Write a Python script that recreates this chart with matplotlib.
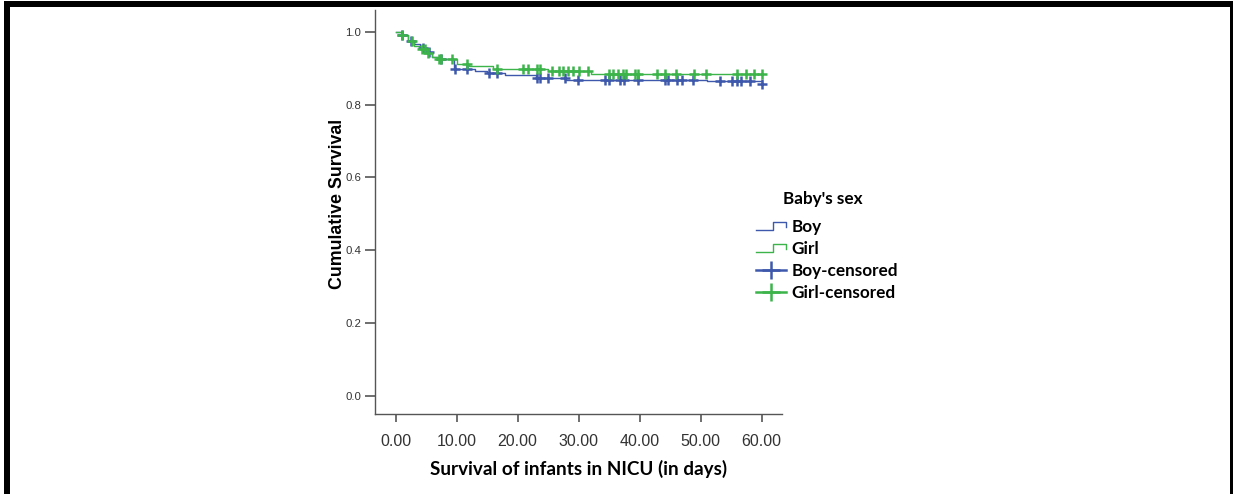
import numpy as np
import matplotlib
matplotlib.use("Agg")
import matplotlib.pyplot as plt
from matplotlib.lines import Line2D
from matplotlib.legend_handler import HandlerBase
from matplotlib.patches import Rectangle

# Kaplan-Meier steps: time of each drop and survival right after it
boy_times = [0, 1, 2, 3, 4, 5, 6, 7, 9.5, 13, 15, 18, 23, 28, 51, 60]
boy_surv = [1.0, 0.99, 0.975, 0.965, 0.955, 0.945, 0.932, 0.925, 0.898,
            0.893, 0.886, 0.880, 0.874, 0.868, 0.864, 0.856]
boy_censored = [1.0, 2.5, 4.5, 5.5, 7.5, 9.8, 11.7, 15.3, 16.6, 23.1, 23.6,
                25.0, 27.8, 29.9, 34.3, 34.9, 36.8, 37.5, 39.8, 44.1, 44.7,
                46.1, 46.9, 48.8, 53.2, 55.1, 55.9, 56.7, 58.1, 60.0]

girl_times = [0, 1, 2, 3, 4, 5, 6, 7, 10, 12, 16, 25, 32]
girl_surv = [1.0, 0.99, 0.975, 0.962, 0.952, 0.942, 0.932, 0.924, 0.912,
             0.905, 0.898, 0.892, 0.884]
girl_censored = [1.0, 2.7, 4.3, 4.8, 5.3, 7.1, 7.5, 9.2, 11.7, 16.6, 20.9,
                 21.7, 23.1, 23.6, 25.7, 26.7, 27.5, 28.3, 29.1, 30.1, 31.6,
                 35.0, 35.6, 36.5, 37.3, 37.8, 39.2, 39.8, 42.8, 44.1, 45.9,
                 48.9, 50.9, 55.9, 57.4, 58.7, 60.0]

end_time = 60
x_ticks = [0, 10, 20, 30, 40, 50, 60]
y_ticks = [0.0, 0.2, 0.4, 0.6, 0.8, 1.0]

BLUE = "#3e58ac"
GREEN = "#3cb44a"


def surv_at(times, surv, t):
    idx = np.searchsorted(times, t, side="right") - 1
    return np.array(surv)[idx]


class StepHandler(HandlerBase):
    # little step-shaped icon for the survival lines
    def create_artists(self, legend, orig, xd, yd, w, h, fs, trans):
        xs = np.array([0, 0.55, 0.55, 1.0, 1.0]) * w - xd
        ys = np.array([0.15, 0.15, 0.85, 0.85, 0.45]) * h - yd
        ln = Line2D(xs, ys, color=orig.get_color(), lw=1.0, transform=trans)
        return [ln]


fig = plt.figure(figsize=(12.33, 4.94), dpi=100)
ax = fig.add_axes([0.3044, 0.1613, 0.3296, 0.8187])

bt = boy_times + ([end_time] if boy_times[-1] < end_time else [])
bs = boy_surv + ([boy_surv[-1]] if boy_times[-1] < end_time else [])
gt = girl_times + [end_time]
gs = girl_surv + [girl_surv[-1]]

boy_line, = ax.step(bt, bs, where="post", color=BLUE, lw=1.0)
girl_line, = ax.step(gt, gs, where="post", color=GREEN, lw=1.0)

boy_c = ax.plot(boy_censored, surv_at(boy_times, boy_surv, boy_censored),
                ls="none", marker="+", ms=7.5, mew=1.8, color=BLUE)[0]
girl_c = ax.plot(girl_censored, surv_at(girl_times, girl_surv, girl_censored),
                 ls="none", marker="+", ms=7.5, mew=1.8, color=GREEN)[0]

ax.set_xlim(-3.34, 63.3)
ax.set_ylim(-0.05, 1.06)
ax.set_xticks(x_ticks)
ax.set_xticklabels([f"{v:.2f}" for v in x_ticks])
ax.set_yticks(y_ticks)
ax.set_yticklabels([f"{v:.1f}" for v in y_ticks])

for side in ["top", "right"]:
    ax.spines[side].set_visible(False)
for side in ["left", "bottom"]:
    ax.spines[side].set_color("#555555")
    ax.spines[side].set_linewidth(1.0)

ax.tick_params(axis="x", length=6, width=1.2, color="#555555",
               labelsize=11.5, labelcolor="#333333", pad=8)
ax.tick_params(axis="y", length=7, width=1.2, color="#555555",
               labelsize=8.2, labelcolor="#333333", pad=3)
for lab in ax.get_xticklabels() + ax.get_yticklabels():
    lab.set_family("Liberation Sans")

ax.set_xlabel("Survival of infants in NICU (in days)", family="Lato",
              fontweight="bold", fontsize=13.6, labelpad=8)
ax.set_ylabel("Cumulative Survival", family="Liberation Sans",
              fontweight="bold", fontsize=12.8)
ax.yaxis.set_label_coords(-0.073, 0.52)

leg = ax.legend([boy_line, girl_line, boy_c, girl_c],
                ["Boy", "Girl", "Boy-censored", "Girl-censored"],
                handler_map={boy_line: StepHandler(), girl_line: StepHandler()},
                loc="upper left", bbox_to_anchor=(0.601, 0.645),
                bbox_transform=fig.transFigure, frameon=False,
                title="Baby's sex", handlelength=1.75, handletextpad=0.3,
                labelspacing=0.35, prop={"family": "Lato", "weight": "bold",
                                         "size": 12.3},
                title_fontproperties={"family": "Lato", "weight": "bold",
                                      "size": 12.3})
leg._legend_box.align = "left"
leg._legend_box.sep = 9
leg.get_title().set_position((27, 0))
for h in leg.legend_handles[2:]:
    h.set_markersize(13)
    h.set_linestyle("-")
    h.set_linewidth(1.8)

# black frame around the image (left, top, right)
W, H = 1233, 494
for x0, y0, w, h in [(4, 0, 6, 493), (4, 487, 1229, 6), (1230, 0, 3, 493)]:
    fig.add_artist(Rectangle((x0 / W, y0 / H), w / W, h / H,
                             transform=fig.transFigure, color="black",
                             lw=0, zorder=10))

fig.savefig("out.png", dpi=100, facecolor="white")
